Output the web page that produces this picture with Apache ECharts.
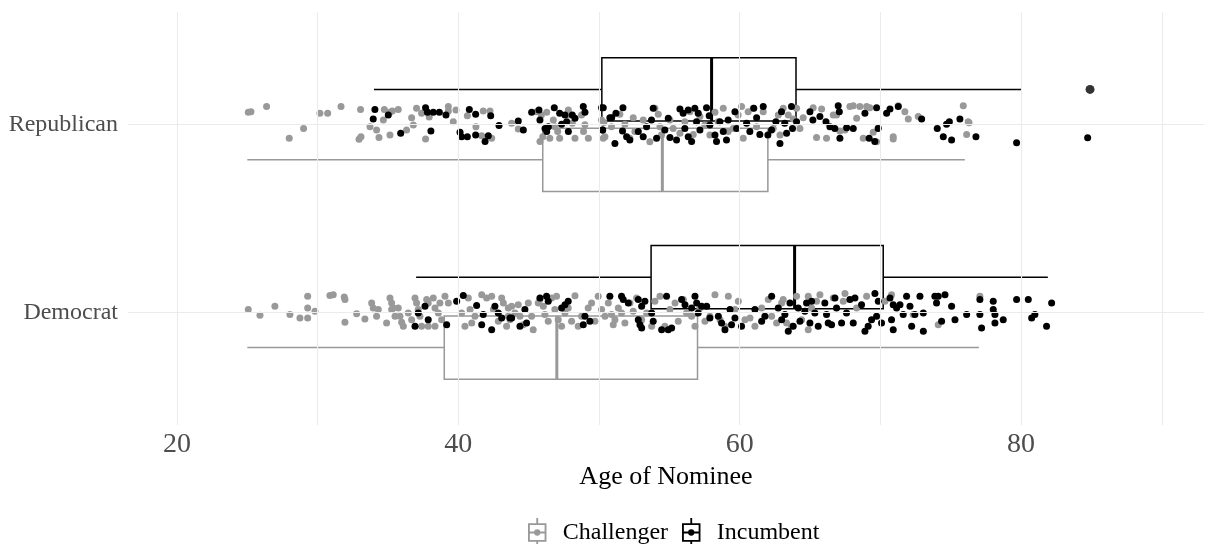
<!DOCTYPE html>
<html>
<head>
<meta charset="utf-8">
<title>Age of Nominee</title>
<script src="https://cdn.jsdelivr.net/npm/echarts@6/dist/echarts.min.js"></script>
<style>
  html, body { margin: 0; padding: 0; background: #ffffff; }
  #chart { width: 1209px; height: 544px; }
</style>
</head>
<body>
<div id="chart"></div>
<script>
// Parties on the vertical axis (1 = Democrat, 2 = Republican)
const categories = ['Democrat', 'Republican'];
const xTicks = [20, 40, 60, 80];
const xMinorGrid = [30, 50, 70, 90];

// Box statistics per party: [whisker low, Q1, median, Q3, whisker high]
const challengerBoxes = [
  [25, 39, 47, 57, 77],      // Democrat
  [25, 46, 54.5, 62, 76]     // Republican
];
const incumbentBoxes = [
  [37, 53.7, 63.9, 70.2, 81.9], // Democrat
  [34, 50.2, 58, 64, 80]        // Republican
];
// Outliers beyond the whiskers: [age, party index]
const incumbentOutliers = [[84.9, 1]];

// Individual nominees: [age, vertical jitter]
const repChallengerPts = [
  [25.07,0.066],[25.26,0.069],[26.37,0.096],[27.98,-0.073],[29.0,-0.02],[30.16,0.06],[30.71,0.06],[31.66,0.096],
  [33.05,0.08],[33.08,-0.064],[32.94,-0.078],[33.72,-0.011],[34.19,-0.029],[34.36,-0.069],[34.67,0.025],[34.74,0.08],
  [35.14,0.066],[35.3,0.073],[35.73,0.08],[35.14,-0.055],[36.32,-0.029],[36.68,0.037],[36.8,-0.002],[37.03,0.087],
  [37.39,0.06],[37.67,-0.076],[37.93,0.041],[37.8,0.069],[39.29,0.096],[39.29,0.073],[39.64,0.016],[39.83,0.078],
  [40.64,0.048],[41.25,-0.011],[41.77,0.073],[42.25,0.073],[41.66,-0.059],[42.37,-0.073],[43.79,0.007],[44.26,-0.023],
  [45.56,0.069],[45.9,0.051],[46.28,0.066],[45.8,-0.09],[46.0,-0.064],[46.5,-0.073],[46.75,0.025],[46.87,-0.011],
  [47.06,-0.037],[47.2,-0.073],[47.82,0.078],[47.94,0.051],[48.1,0.007],[48.29,-0.073],[48.76,0.051],[48.9,-0.037],
  [49.0,0.0],[49.24,-0.073],[50.18,0.025],[50.3,-0.073],
  [50.42,-0.064],[50.34,0.012],[50.89,-0.011],[51.48,0.055],[51.84,0.002],[52.19,-0.073],[52.43,0.037],[52.55,-0.037],
  [53.14,0.025],[53.61,-0.091],[53.97,0.087],[54.21,0.055],[54.33,-0.011],[54.44,-0.055],[55.04,0.025],[55.27,-0.02],
  [55.75,-0.046],[56.1,0.016],[56.46,0.069],[56.7,-0.052],[57.17,0.043],[57.52,-0.002],[57.88,-0.055],[58.24,0.066],
  [58.47,0.016],[58.83,0.087],[59.18,-0.037],[59.54,-0.02],[59.89,0.051],[60.13,0.096],[60.25,-0.073],[60.6,0.069],
  [60.96,0.087],[61.2,-0.011],[61.67,0.069],[62.38,-0.02],[62.74,0.051],[62.86,-0.055],[63.09,0.087],[63.45,0.051],
  [63.8,0.03],[64.04,0.087],[64.28,-0.02],[64.51,0.037],[65.22,0.09],[65.46,-0.069],[65.82,0.083],[66.17,-0.073],
  [66.65,0.051],[66.88,0.051],[67.12,-0.034],[67.48,-0.029],[67.83,0.096],[68.07,0.1],[68.31,0.034],[68.54,0.096],
  [68.78,-0.073],[69.02,0.096],[69.25,0.09],[69.49,-0.041],[69.73,-0.091],[69.85,-0.016],[70.91,-0.064],[70.91,-0.076],
  [71.27,0.1],[71.74,0.069],[71.98,0.03],[72.69,0.043],[75.89,0.1],[76.24,0.016],[76.13,-0.052],[76.3,0.01]
];
const repIncumbentPts = [
  [34.07,0.08],[33.95,0.03],[35.02,0.051],[35.9,-0.046],[37.67,0.09],[37.8,0.066],[38.22,0.066],[38.65,0.066],
  [38.05,-0.034],[39.12,0.051],[40.12,-0.041],[40.23,-0.064],[40.64,-0.064],[41.23,-0.055],[40.78,0.08],[41.23,0.055],
  [42.3,0.048],[41.9,-0.09],[42.13,-0.059],[42.89,-0.005],[44.26,0.02],[44.62,-0.029],[45.21,0.066],[45.73,0.078],
  [45.8,0.025],[46.16,-0.02],[46.4,-0.011],[46.28,-0.037],[46.82,0.09],[47.2,0.06],[47.34,0.002],[47.7,0.016],
  [47.58,0.051],[47.82,-0.037],[48.1,0.051],[48.29,0.034],[48.88,0.096],[49.0,0.066],[50.18,0.09],[50.26,-0.029],
  [50.9,0.037],
  [50.3,0.09],[50.77,0.037],[51.2,0.06],[51.7,0.09],[51.67,-0.034],[51.13,-0.1],[51.96,-0.064],[52.19,-0.082],
  [50.25,-0.029],[52.79,-0.037],[53.14,-0.064],[53.38,-0.011],[53.73,0.025],[53.85,0.087],[54.09,-0.073],
  [54.68,-0.029],[54.92,0.034],[55.04,-0.069],[55.51,-0.082],[55.75,0.083],[55.98,0.06],[56.34,0.078],[56.81,0.087],
  [57.05,0.06],[56.1,-0.02],[56.34,-0.064],[56.58,-0.09],[56.93,0.016],[57.17,-0.029],
  [57.64,0.09],[57.83,0.048],[57.88,-0.002],[58.24,-0.055],[58.35,-0.09],[58.59,0.016],[58.83,-0.037],[59.18,0.025],
  [59.06,-0.082],[59.66,0.069],[59.78,-0.02],[60.49,0.007],[60.72,-0.037],[61.0,0.087],[61.2,0.037],[61.67,0.096],
  [61.43,-0.052],[62.0,-0.055],[62.26,-0.029],[62.57,0.016],[62.97,0.069],[62.86,-0.1],[63.2,0.007],[63.33,-0.046],
  [63.68,0.096],[63.75,-0.02],[64.04,0.016],
  [64.99,0.069],[65.2,0.025],[65.7,0.043],[66.13,0.016],[66.41,-0.011],[66.76,-0.02],[67.12,-0.073],[67.6,-0.016],
  [68.07,-0.02],[67.0,0.1],[67.08,0.069],[68.9,0.06],[69.73,0.09],[69.2,-0.073],[69.6,-0.09],[69.84,-0.02],
  [70.44,0.06],[70.68,0.083],[71.27,0.096],[72.93,0.03],[74.04,-0.02],[74.7,0.002],[74.9,0.016],[75.65,0.03],
  [74.47,-0.064],[75.06,-0.082],[76.79,-0.064],[79.68,-0.096],[84.73,-0.07]
];
const demChallengerPts = [
  [25.07,0.015],[25.9,-0.016],[26.96,0.032],[28.03,-0.012],[28.74,-0.03],[29.29,-0.03],[29.29,0.086],[29.29,0.023],
  [29.81,0.006],[30.87,0.09],[31.11,0.094],[31.89,0.082],[31.94,0.068],[31.94,-0.053],[32.77,-0.007],[33.36,-0.035],
  [33.84,0.05],[33.95,0.023],[34.31,0.015],[34.19,-0.021],[35.14,0.077],[35.26,0.05],[35.26,0.015],[35.5,-0.021],
  [34.9,-0.057],[35.38,0.023],[35.73,0.023],[35.85,-0.021],[35.97,-0.053],[36.09,-0.074],[36.44,-0.003],[36.68,-0.039],
  [36.92,0.077],[37.03,0.05],[37.15,0.015],[37.27,-0.021],[37.39,-0.074],[37.86,-0.074],[37.75,0.068],[37.86,0.05],
  [38.22,0.077],[38.34,0.023],[38.58,-0.003],[38.81,-0.039],[39.05,0.086],[39.29,0.05],[38.69,0.05],[38.34,-0.074],
  [40.23,-0.003],[40.71,0.077],[40.83,0.015],[40.95,-0.057],[40.47,-0.074],[41.18,-0.021],[41.66,0.094],[42.01,0.077],
  [42.37,0.086],[42.49,0.015],[42.84,-0.048],[43.08,0.077],[43.2,0.05],[43.43,-0.074],[43.55,-0.021],[43.79,0.032],
  [43.55,0.023],[43.67,-0.039],[44.02,-0.003],[44.26,0.041],[44.38,-0.021],[44.61,-0.066],[44.97,0.05],[45.21,-0.021],
  [45.32,-0.092],[45.68,0.05],[45.8,0.068],[46.04,0.032],[46.15,-0.012],[46.39,-0.048],[46.63,0.077],[46.86,0.015],
  [46.98,0.086],[47.1,-0.039],[47.34,-0.074],[47.58,-0.003],[47.81,0.023],[48.05,-0.048],[48.29,0.089],[48.52,-0.074],
  [48.76,-0.021],[49.23,0.023],[49.47,0.05],[49.71,-0.048],[49.94,0.086],[50.18,0.015],[50.42,-0.021],[50.66,0.05],
  [50.89,-0.012],[51.01,-0.066],[51.13,-0.039],[51.37,0.023],[51.6,-0.003],[51.84,-0.057],[52.2,0.05],[52.43,0.006],
  [52.67,0.077],[53.03,-0.039],[53.38,-0.003],[53.74,-0.074],[53.97,0.059],[54.33,0.086],[54.68,-0.074],[55.04,0.015],
  [55.4,0.05],[55.63,-0.048],[55.99,0.068],[56.22,-0.003],[56.58,-0.021],[56.82,-0.074],[57.17,0.023],[57.53,-0.048],
  [57.88,-0.021],[58.24,0.094],[58.6,-0.039],[58.95,-0.074],[59.19,0.086],[59.66,0.015],[59.9,0.059],[60.37,-0.039],
  [60.73,-0.03],[61.08,-0.074],[61.56,0.023],[62.03,0.068],[62.27,-0.021],[62.62,-0.057],[62.98,0.05],
  [63.09,0.068],[64.04,0.086],[64.87,0.086],[65.7,0.094],[65.11,0.023],[64.4,-0.039],[63.68,-0.074],[63.33,-0.057],
  [65.46,0.059],[66.65,0.077],[67.48,0.1],[67.36,0.059],[68.31,0.023],[69.02,0.086],[70.32,0.059],[70.79,0.094],
  [72.33,-0.012],[74.11,-0.066],[77.07,0.086],[64.87,-0.092]
];
const demIncumbentPts = [
  [37.63,0.032],[37.15,-0.003],[36.92,-0.074],[37.86,-0.039],[39.17,-0.066],[39.88,0.059],[40.35,0.09],[41.3,0.036],
  [41.77,-0.012],[41.66,-0.066],[42.37,-0.092],[42.6,0.032],[42.84,-0.003],[43.08,-0.03],[43.79,-0.03],
  [43.67,-0.03],[44.38,-0.074],[44.73,0.015],[44.85,-0.057],[45.8,0.077],[46.27,0.086],[46.39,0.059],[47.34,0.023],
  [47.58,0.041],[47.81,0.059],[49.0,-0.021],[49.35,-0.048],[48.88,-0.066],[50.77,0.086],[51.6,0.086],[51.72,0.068],
  [52.08,0.05],[52.79,0.068],[53.03,0.032],[53.26,0.059],[52.79,-0.039],[52.91,-0.066],[53.03,-0.083],[53.74,-0.003],
  [53.85,-0.048],[54.8,0.086],[54.92,-0.092],[54.45,-0.092],[55.16,-0.083],[55.87,0.068],[56.11,0.041],[56.82,0.086],
  [56.94,0.05],[56.58,0.023],[57.05,-0.003],[57.29,0.032],[57.65,0.032],[57.88,-0.03],[58.48,-0.021],[58.71,-0.057],
  [58.95,-0.092],[59.42,-0.066],[59.66,-0.03],[60.13,-0.074],[59.31,0.015],[61.08,0.015],[61.56,-0.048],[61.79,-0.021],
  [62.27,0.086],[62.98,-0.039],
  [62.74,0.023],[63.21,-0.012],[63.57,0.05],[63.45,-0.1],[63.8,-0.074],[64.16,0.023],[64.28,-0.048],[64.63,0.006],
  [64.75,0.05],[64.99,-0.057],[65.11,0.059],[65.34,-0.003],[65.58,-0.074],[66.05,0.05],[66.17,-0.012],[66.29,-0.057],
  [66.53,-0.066],[66.77,0.077],[66.88,0.023],[67.24,-0.057],[67.59,-0.003],[67.83,0.068],[68.07,-0.057],[68.19,0.077],
  [68.66,0.041],[68.9,-0.1],[69.13,-0.074],[69.37,-0.039],[69.61,0.1],[69.73,-0.021],[69.85,0.059],[70.08,-0.057],
  [70.68,0.077],[70.91,0.041],[70.79,-0.039],[70.91,-0.092],[71.15,0.023],[71.39,0.041],[71.62,-0.012],[71.86,0.086],
  [72.1,0.032],[72.22,-0.074],[72.45,-0.012],[72.81,0.086],[73.05,-0.003],[73.05,-0.1],[73.87,0.086],[74.11,0.086],
  [73.99,0.05],[74.59,0.094],[74.35,-0.048],[75.06,0.032],[75.3,-0.039],[76.13,-0.012],[77.07,0.068],[77.19,-0.083],
  [77.07,-0.012],[78.02,0.059],[78.02,0.015],[78.14,-0.012],[78.14,-0.057],[78.73,-0.039],[79.68,0.068],[80.51,0.068],
  [80.75,-0.03],[80.98,-0.012],[81.81,-0.074],[82.17,0.05]
];

const GREY = '#999999';
const BLACK = '#000000';
const FONT = 'Liberation Serif';
const DODGE = 0.1875;      // vertical offset of each box from the party line
const HALF_BOX = 0.16875;  // half of the box thickness

// Legend glyph: box with median, whiskers and a central dot (all sub-paths clockwise)
const boxIcon = 'path://M7.3,0h1.4v4h-1.4Z M1,4h14v1.4h-14Z M1,16.6h14v1.4h-14Z M1,4h1.4v14h-1.4Z ' +
  'M13.6,4h1.4v14h-1.4Z M1,10.3h14v1.4h-14Z M7.3,18h1.4v4h-1.4Z ' +
  'M5.6,11a2.4,2.4 0 1,1 4.8,0a2.4,2.4 0 1,1 -4.8,0Z';

function jitterData(points, partyIndex) {
  return points.map(p => [p[0], partyIndex + 1 + p[1]]);
}

function boxData(boxes, side) {
  return boxes.map((b, i) => [i + 1, b[0], b[1], b[2], b[3], b[4], side]);
}

function renderBox(color) {
  return function (params, api) {
    const yc = api.value(0) + api.value(6) * DODGE;
    const low = api.value(1), q1 = api.value(2), med = api.value(3), q3 = api.value(4), high = api.value(5);
    const a = api.coord([q1, yc + HALF_BOX]);
    const b = api.coord([q3, yc - HALF_BOX]);
    const wl = api.coord([low, yc]);
    const wh = api.coord([high, yc]);
    const mt = api.coord([med, yc + HALF_BOX]);
    const mb = api.coord([med, yc - HALF_BOX]);
    const lineStyle = { stroke: color, lineWidth: 1.5, fill: null };
    return {
      type: 'group',
      children: [
        { type: 'line', shape: { x1: wl[0], y1: wl[1], x2: a[0], y2: wl[1] }, style: lineStyle },
        { type: 'line', shape: { x1: b[0], y1: wh[1], x2: wh[0], y2: wh[1] }, style: lineStyle },
        { type: 'rect', shape: { x: a[0], y: a[1], width: b[0] - a[0], height: b[1] - a[1] },
          style: { stroke: color, lineWidth: 1.5, fill: 'rgba(255,255,255,0)' } },
        { type: 'line', shape: { x1: mt[0], y1: mt[1], x2: mb[0], y2: mb[1] },
          style: { stroke: color, lineWidth: 3 } }
      ]
    };
  };
}

const gridLineStyle = { color: '#ebebeb', width: 1.1, type: 'solid' };

const chart = echarts.init(document.getElementById('chart'), null, { renderer: 'canvas' });
chart.setOption({
  backgroundColor: '#ffffff',
  animation: false,
  grid: { left: 128, right: 5, top: 12, bottom: 119, containLabel: false },
  xAxis: {
    type: 'value',
    min: 16.52,
    max: 93.0,
    name: 'Age of Nominee',
    nameLocation: 'middle',
    nameGap: 36,
    nameTextStyle: { fontFamily: FONT, fontSize: 26, color: '#000000' },
    axisLine: { show: false },
    axisTick: { show: false, customValues: xTicks },
    splitLine: { show: false },
    axisLabel: {
      customValues: xTicks,
      fontFamily: FONT, fontSize: 28, color: '#4d4d4d', margin: 6
    }
  },
  yAxis: {
    type: 'value',
    min: 0.4,
    max: 2.6,
    axisLine: { show: false },
    axisTick: { show: false, customValues: [1, 2] },
    splitLine: { show: false },
    axisLabel: {
      customValues: [1, 2],
      formatter: v => categories[Math.round(v) - 1],
      fontFamily: FONT, fontSize: 24, color: '#4d4d4d', margin: 10
    }
  },
  legend: {
    left: 523,
    top: 513,
    itemWidth: 21,
    itemHeight: 29,
    itemGap: 14,
    selectedMode: false,
    textStyle: { fontFamily: FONT, fontSize: 24, color: '#000000', padding: [0, 0, 0, 10] },
    data: [
      { name: 'Challenger', icon: boxIcon, itemStyle: { color: GREY, borderWidth: 0 } },
      { name: 'Incumbent', icon: boxIcon, itemStyle: { color: BLACK, borderWidth: 0 } }
    ]
  },
  series: [
    {
      name: 'grid',
      type: 'scatter',
      data: [],
      z: 1,
      silent: true,
      markLine: {
        silent: true,
        symbol: 'none',
        label: { show: false },
        lineStyle: gridLineStyle,
        emphasis: { disabled: true },
        data: [
          ...xTicks.map(v => ({ xAxis: v })),
          ...xMinorGrid.map(v => ({ xAxis: v })),
          ...categories.map((c, i) => ({ yAxis: i + 1 }))
        ]
      }
    },
    {
      name: 'Challenger',
      type: 'custom',
      z: 2,
      renderItem: renderBox(GREY),
      itemStyle: { color: GREY },
      data: boxData(challengerBoxes, -1)
    },
    {
      name: 'Incumbent',
      type: 'custom',
      z: 2,
      renderItem: renderBox(BLACK),
      itemStyle: { color: BLACK },
      data: boxData(incumbentBoxes, 1)
    },
    {
      name: 'Incumbent',
      type: 'scatter',
      z: 3,
      symbolSize: 9,
      itemStyle: { color: BLACK },
      data: incumbentOutliers.map(o => [o[0], o[1] + 1 + DODGE])
    },
    {
      name: 'Challenger',
      type: 'scatter',
      z: 3,
      symbolSize: 7,
      itemStyle: { color: GREY, opacity: 1 },
      data: jitterData(repChallengerPts, 1).concat(jitterData(demChallengerPts, 0))
    },
    {
      name: 'Incumbent',
      type: 'scatter',
      z: 4,
      symbolSize: 7,
      itemStyle: { color: BLACK, opacity: 1 },
      data: jitterData(repIncumbentPts, 1).concat(jitterData(demIncumbentPts, 0))
    }
  ]
});
</script>
</body>
</html>
